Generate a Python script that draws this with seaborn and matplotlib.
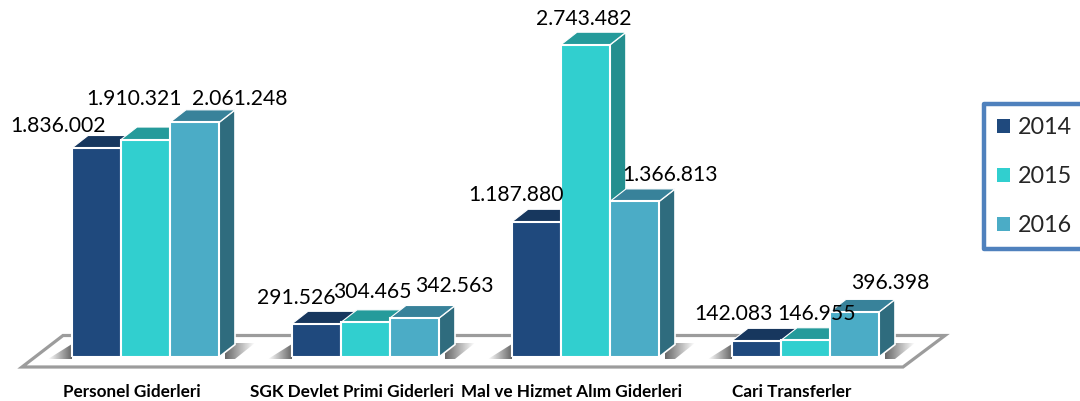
import seaborn as sns
import matplotlib.pyplot as plt
from matplotlib.patches import Polygon, Rectangle
import numpy as np
import pandas as pd

sns.set_style('white')
plt.rcParams['font.family'] = ['Lato', 'DejaVu Sans']

categories = ['Personel Giderleri', 'SGK Devlet Primi Giderleri',
              'Mal ve Hizmet Alım Giderleri', 'Cari Transferler']
years = ['2014', '2015', '2016']
values_2014 = [1836002, 291526, 1187880, 142083]
values_2015 = [1910321, 304465, 2743482, 146955]
values_2016 = [2061248, 342563, 1366813, 396398]

front_colors = ['#1F497D', '#31CFCF', '#4BACC6']
top_colors = ['#17375E', '#259B9B', '#38829A']
side_colors = ['#163359', '#248F8F', '#2F6C7E']

df = pd.DataFrame({
    'kategori': categories * 3,
    'yil': np.repeat(years, 4),
    'deger': values_2014 + values_2015 + values_2016,
})

W, H = 1080, 401
fig = plt.figure(figsize=(W / 100, H / 100), dpi=100)

# background layer in pixels: floor, shadows, legend box
bg = fig.add_axes([0, 0, 1, 1], zorder=0)
bg.set_xlim(0, W)
bg.set_ylim(H, 0)
bg.axis('off')

bg.add_patch(Polygon([(22, 367), (903, 367), (945, 335.5), (63, 335.5)], closed=True,
                     facecolor='white', edgecolor='#9C9C9C', linewidth=2.3, joinstyle='miter'))

def shadow(x0, x1, poly, fade_right):
    ramp = np.linspace(0, 1, 64) if not fade_right else np.linspace(1, 0, 64)
    img = np.zeros((1, 64, 4))
    img[..., :3] = 0.3
    img[..., 3] = ramp * 0.85
    im = bg.imshow(img, extent=(x0, x1, 360, 340), aspect='auto', interpolation='bilinear', zorder=2)
    clip = Polygon(poly, closed=True, transform=bg.transData)
    im.set_clip_path(clip)

for left in [72, 292, 512, 732]:
    shadow(left - 24, left, [(left - 24, 359), (left, 359), (left, 344)], False)
    right = left + 147
    shadow(right + 6, right + 36, [(right, 359), (right + 16, 359), (right + 36, 343), (right, 343)], True)
bg.set_xlim(0, W)
bg.set_ylim(H, 0)

bg.add_patch(Rectangle((984, 104), 110, 145, facecolor='white', edgecolor='#4F81BD',
                       linewidth=3.2, joinstyle='round'))

# main axes: 220 px per group, 8785 units per px
ax = fig.add_axes([35.5 / W, (H - 357) / H, 880 / W, 357 / H], zorder=1)
ax.patch.set_visible(False)

sns.barplot(data=df, x='kategori', y='deger', hue='yil', palette=front_colors, order=categories,
            hue_order=years, width=147 / 220, gap=0, saturation=1, edgecolor='white',
            linewidth=1.5, ax=ax)
ax.set_xlim(-0.5, 3.5)
ax.set_ylim(0, 357 * 8785)

depth_x = 16 / 220
depth_y = 12.5 * 8785

# pseudo 3d faces, painted left to right
for j, container in enumerate(ax.containers):
    for i, bar in enumerate(container):
        x0 = bar.get_x()
        x1 = x0 + bar.get_width()
        h = bar.get_height()
        z = 3 + i * 3 + j
        bar.set_zorder(z + 0.5)
        ax.add_patch(Polygon([(x1, 0), (x1 + depth_x, depth_y), (x1 + depth_x, h + depth_y), (x1, h)],
                             closed=True, facecolor=side_colors[j], edgecolor='white',
                             linewidth=1.2, zorder=z))
        ax.add_patch(Polygon([(x0, h), (x0 + depth_x, h + depth_y), (x1 + depth_x, h + depth_y), (x1, h)],
                             closed=True, facecolor=top_colors[j], edgecolor='white',
                             linewidth=0.8, zorder=z))

# label offsets from each bar's top centre, in pixels
label_offsets = [
    [(-38.5, 22), (-20.5, 25.8), (-20.5, 26.8), (-23.5, 26.8)],
    [(-11.5, 40.5), (6.5, 30), (-1.5, 25.7), (11.5, 26.3)],
    [(45.5, 23.4), (39.5, 32), (35.5, 26.4), (35.5, 28.9)],
]
for j, container in enumerate(ax.containers):
    for i, bar in enumerate(container):
        label = f'{int(bar.get_height()):,}'.replace(',', '.')
        ax.annotate(label, (bar.get_x() + bar.get_width() / 2, bar.get_height()),
                    xytext=label_offsets[j][i], textcoords='offset pixels',
                    ha='center', va='center', fontsize=15.2, color='black', zorder=60)

ax.set_xticks([i - 13.5 / 220 for i in range(4)], labels=categories, fontweight='bold', fontsize=12.3, color='black')
ax.set_yticks([])
ax.tick_params(axis='x', length=0, pad=19.5)
ax.set_xlabel('')
ax.set_ylabel('')
sns.despine(ax=ax, left=True, bottom=True)

handles, labels = ax.get_legend_handles_labels()
leg = ax.legend(handles, labels, frameon=False, loc='upper left',
                bbox_to_anchor=(990 / W, (H - 110) / H), bbox_transform=fig.transFigure,
                fontsize=16.8, handlelength=0.56, handleheight=0.56, handletextpad=0.35,
                labelspacing=1.2, borderpad=0.3, borderaxespad=0)
leg.set_zorder(70)
for patch in leg.get_patches():
    patch.set_linewidth(0)

fig.savefig('out.png', dpi=100)
